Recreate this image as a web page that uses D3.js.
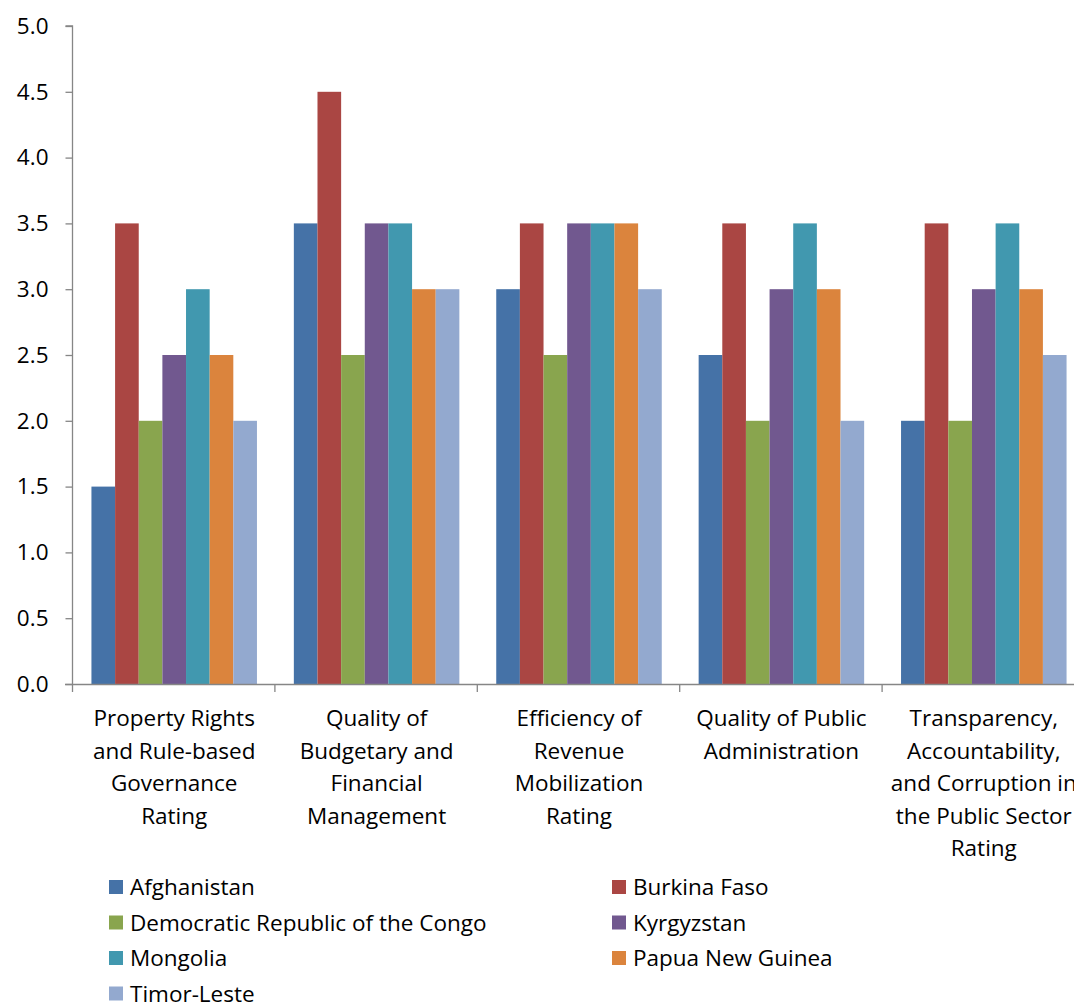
<!DOCTYPE html>
<html>
<head>
<meta charset="utf-8">
<script src="https://cdn.jsdelivr.net/npm/d3@7"></script>
<style>
body { margin: 0; background: #fff; }
text { font-family: "Open Sans", sans-serif; fill: #000; }
</style>
</head>
<body>
<div id="chart"></div>
<script>
// categories (label lines kept as the chart wraps them)
var categories = [
	["Property Rights", "and Rule-based", "Governance", "Rating"],
	["Quality of", "Budgetary and", "Financial", "Management"],
	["Efficiency of", "Revenue", "Mobilization", "Rating"],
	["Quality of Public", "Administration"],
	["Transparency,", "Accountability,", "and Corruption in", "the Public Sector", "Rating"]
];
var countries = ["Afghanistan", "Burkina Faso", "Democratic Republic of the Congo", "Kyrgyzstan",
	"Mongolia", "Papua New Guinea", "Timor-Leste"];
var colors = ["#4572A7", "#AA4643", "#89A54E", "#71588F", "#4198AF", "#DB843D", "#93A9CF"];

// one array per country, values per category
var afghanistan = [1.5, 3.5, 3.0, 2.5, 2.0];
var burkinaFaso = [3.5, 4.5, 3.5, 3.5, 3.5];
var drCongo = [2.0, 2.5, 2.5, 2.0, 2.0];
var kyrgyzstan = [2.5, 3.5, 3.5, 3.0, 3.0];
var mongolia = [3.0, 3.5, 3.5, 3.5, 3.5];
var papuaNewGuinea = [2.5, 3.0, 3.5, 3.0, 3.0];
var timorLeste = [2.0, 3.0, 3.0, 2.0, 2.5];
var series = [afghanistan, burkinaFaso, drCongo, kyrgyzstan, mongolia, papuaNewGuinea, timorLeste];

var yTicks = [0, 0.5, 1, 1.5, 2, 2.5, 3, 3.5, 4, 4.5, 5];

var w = 1074, h = 1003;
var mLeft = 73, mRight = 1085, mTop = 26, mBottom = 684;
var fontSize = "22.5px";

var svg = d3.select("#chart").append("svg")
	.attr("width", w)
	.attr("height", h);

var y = d3.scaleLinear().domain([0, 5]).range([mBottom, mTop]);
var x0 = d3.scaleBand().domain(d3.range(categories.length)).range([mLeft, mRight])
	.paddingInner(0).paddingOuter(0);
var x1 = d3.scaleBand().domain(d3.range(countries.length))
	.range([0, x0.bandwidth()]).paddingOuter(0.78).paddingInner(0);

// bars
var rows = [];
categories.forEach(function(c, ci) {
	series.forEach(function(s, si) {
		rows.push({cat: ci, ser: si, value: s[ci]});
	});
});
svg.append("g").selectAll("rect")
	.data(rows)
	.enter()
	.append("rect")
	.attr("x", function(d) { return x0(d.cat) + x1(d.ser); })
	.attr("width", x1.bandwidth())
	.attr("y", function(d) { return y(d.value); })
	.attr("height", function(d) { return y(0) - y(d.value); })
	.style("fill", function(d) { return colors[d.ser]; });

// y axis
var yAxis = d3.axisLeft(y).tickValues(yTicks).tickFormat(d3.format(".1f"))
	.tickSize(7).tickPadding(17);
var gy = svg.append("g").attr("transform", "translate(" + (mLeft - 0.5) + ",0)").call(yAxis);
gy.selectAll("path, line").style("stroke", "#868686").style("stroke-width", 1.3);
gy.select(".domain").attr("d", "M-7," + mTop + "H0V" + mBottom);
gy.selectAll("text").style("font-size", fontSize).style("font-family", "'Open Sans', sans-serif")
	.attr("fill", "#000");

// x axis baseline and category ticks
svg.append("line")
	.attr("x1", mLeft - 8).attr("x2", mRight)
	.attr("y1", mBottom + 0.5).attr("y2", mBottom + 0.5)
	.style("stroke", "#868686").style("stroke-width", 1.3);
var bounds = d3.range(categories.length + 1).map(function(i) {
	return i < categories.length ? x0(i) : x0(i - 1) + x0.bandwidth();
});
svg.append("g").selectAll("line")
	.data(bounds)
	.enter()
	.append("line")
	.attr("x1", function(d) { return d - 0.5; })
	.attr("x2", function(d) { return d - 0.5; })
	.attr("y1", mBottom).attr("y2", mBottom + 8)
	.style("stroke", "#868686").style("stroke-width", 1.3);

// category labels
var labels = svg.append("g").selectAll("text")
	.data(categories)
	.enter()
	.append("text")
	.attr("text-anchor", "middle")
	.style("font-size", fontSize)
	.attr("x", function(d, i) { return x0(i) + x0.bandwidth() / 2; })
	.attr("y", 726);
labels.selectAll("tspan")
	.data(function(d) { return d; })
	.enter()
	.append("tspan")
	.attr("x", function() { return d3.select(this.parentNode).attr("x"); })
	.attr("dy", function(d, i) { return i == 0 ? 0 : 32.5; })
	.text(function(d) { return d; });

// legend
var legend = svg.append("g").selectAll("g")
	.data(countries)
	.enter()
	.append("g")
	.attr("transform", function(d, i) {
		var col = i % 2, row = Math.floor(i / 2);
		return "translate(" + (col == 0 ? 109 : 612) + "," + (887 + row * 35.5) + ")";
	});
legend.append("rect")
	.attr("x", 0).attr("y", -7).attr("width", 14).attr("height", 14)
	.style("fill", function(d, i) { return colors[i]; });
legend.append("text")
	.attr("x", 21).attr("y", 8)
	.style("font-size", fontSize)
	.text(function(d) { return d; });
</script>
</body>
</html>
